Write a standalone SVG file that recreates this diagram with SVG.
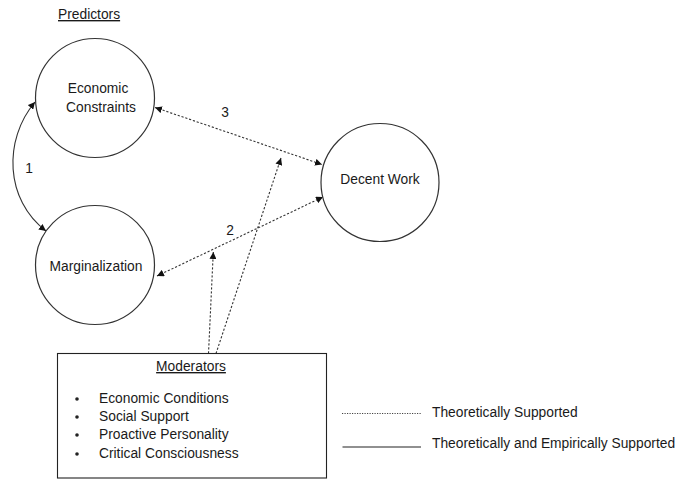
<svg xmlns="http://www.w3.org/2000/svg" width="681" height="480" viewBox="0 0 681 480">
<style>
text{font-family:"Liberation Sans",Arial,sans-serif;font-size:13.8px;fill:#1a1a1a}
.node{fill:#fff;stroke:#333;stroke-width:1.2}
.dot{fill:none;stroke:#333;stroke-width:1.1;stroke-dasharray:2.2 1.8}
.solid{fill:none;stroke:#333;stroke-width:1.1}
.lbl{text-anchor:middle}
</style>
<defs>
<marker id="ah" viewBox="0 0 10 10" refX="10" refY="5" markerWidth="7" markerHeight="7" markerUnits="userSpaceOnUse" orient="auto-start-reverse">
<path d="M0,0 L10,5 L0,10 z" fill="#111"/>
</marker>
</defs>
<rect width="681" height="480" fill="#fff"/>
<text x="58" y="19" text-decoration="underline">Predictors</text>

<g id="connectors">
<path class="solid" d="M35,102 C3,140 5,200 46,231" marker-start="url(#ah)" marker-end="url(#ah)"/>
<line class="dot" x1="155" y1="107.5" x2="322" y2="164.5" marker-start="url(#ah)" marker-end="url(#ah)"/>
<line class="dot" x1="157" y1="276" x2="323" y2="197" marker-start="url(#ah)" marker-end="url(#ah)"/>
<line class="dot" x1="208.5" y1="353.5" x2="213.3" y2="252" marker-end="url(#ah)"/>
<line class="dot" x1="216" y1="353.5" x2="281" y2="158" marker-end="url(#ah)"/>
<text x="29" y="173" class="lbl">1</text>
<text x="230" y="235" class="lbl">2</text>
<text x="225" y="117" class="lbl">3</text>
</g>

<g id="economic-constraints">
<circle class="node" cx="95" cy="98" r="59.5"/>
<text x="98" y="93" class="lbl">Economic</text>
<text x="101" y="112" class="lbl">Constraints</text>
</g>

<g id="marginalization">
<circle class="node" cx="95" cy="265" r="59.5"/>
<text x="96" y="271" class="lbl">Marginalization</text>
</g>

<g id="decent-work">
<circle class="node" cx="380" cy="182.5" r="59"/>
<text x="380" y="184" class="lbl">Decent Work</text>
</g>

<g id="moderators">
<rect x="57.5" y="353.5" width="269" height="124.5" fill="#fff" stroke="#222" stroke-width="1.1"/>
<text x="191" y="371" class="lbl" text-decoration="underline">Moderators</text>
<g>
<circle cx="77" cy="399" r="1.8" fill="#222"/>
<circle cx="77" cy="417" r="1.8" fill="#222"/>
<circle cx="77" cy="435" r="1.8" fill="#222"/>
<circle cx="77" cy="454" r="1.8" fill="#222"/>
</g>
<text x="99" y="403">Economic Conditions</text>
<text x="99" y="421">Social Support</text>
<text x="99" y="439">Proactive Personality</text>
<text x="99" y="458">Critical Consciousness</text>
</g>

<g id="legend">
<line x1="342" y1="413.5" x2="421" y2="413.5" stroke="#444" stroke-width="1" stroke-dasharray="1.2 1.3"/>
<text x="432" y="417">Theoretically Supported</text>
<line x1="342.5" y1="447" x2="421" y2="447" stroke="#222" stroke-width="1.1"/>
<text x="432" y="448">Theoretically and Empirically Supported</text>
</g>
</svg>
